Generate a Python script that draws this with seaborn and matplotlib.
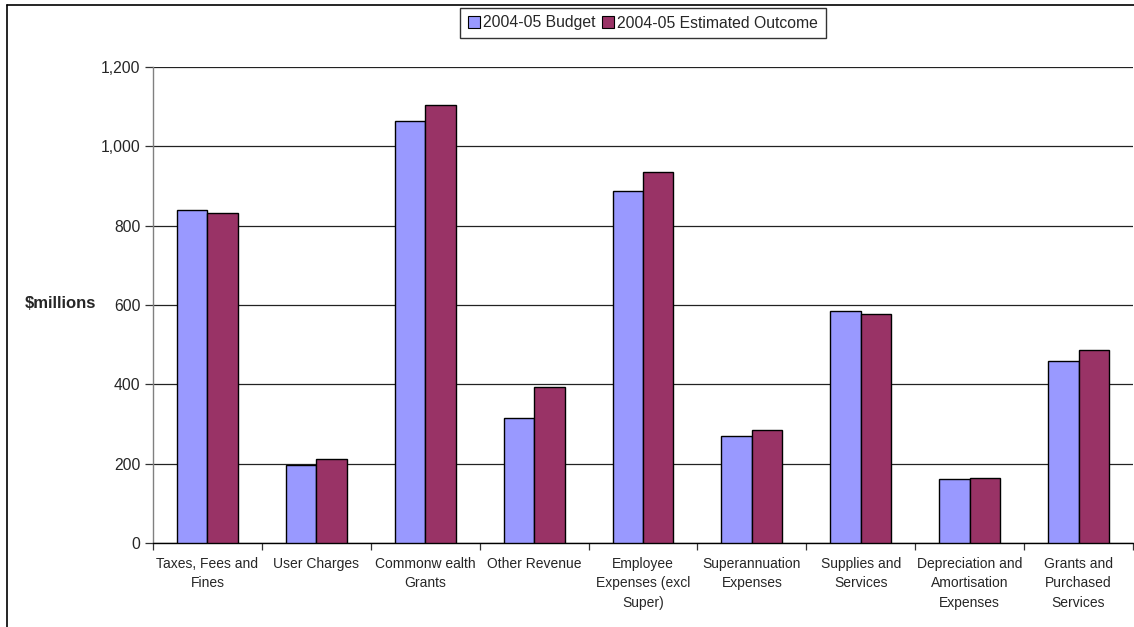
import numpy as np
import pandas as pd
import matplotlib
matplotlib.use("Agg")
import matplotlib.pyplot as plt
import seaborn as sns
from matplotlib.lines import Line2D
from matplotlib.ticker import FuncFormatter, FixedLocator

categories = [
    "Taxes, Fees and\nFines",
    "User Charges",
    "Commonw ealth\nGrants",
    "Other Revenue",
    "Employee\nExpenses (excl\nSuper)",
    "Superannuation\nExpenses",
    "Supplies and\nServices",
    "Depreciation and\nAmortisation\nExpenses",
    "Grants and\nPurchased\nServices",
]
budget = [839, 196, 1065, 314, 887, 270, 585, 162, 460]
outcome = [832, 213, 1103, 394, 935, 286, 578, 165, 486]
series_names = ["2004-05 Budget", "2004-05 Estimated Outcome"]
colors = ["#9999FF", "#993366"]

sns.set_theme(style="white")
plt.rcParams["font.family"] = ["Liberation Sans", "DejaVu Sans"]

df = pd.DataFrame({
    "category": categories * 2,
    "value": budget + outcome,
    "series": [series_names[0]] * len(categories) + [series_names[1]] * len(categories),
})

fig = plt.figure(figsize=(11.34, 6.27), dpi=100)
ax = fig.add_axes([153 / 1134, 1 - 543 / 627, (1133 - 153) / 1134, (543 - 67) / 627])

sns.barplot(data=df, x="category", y="value", hue="series", order=categories,
            hue_order=series_names, palette=colors, width=0.56,
            edgecolor="black", linewidth=1.0, saturation=1, ax=ax, legend=False, zorder=3)

ax.set_ylim(0, 1200)
ax.set_xlim(-0.5, len(categories) - 0.5)
ax.yaxis.set_major_locator(FixedLocator(np.arange(0, 1201, 200)))
ax.yaxis.set_major_formatter(FuncFormatter(lambda v, p: f"{int(v):,}"))
ax.grid(axis="y", color="#222222", linewidth=0.9, zorder=0)
ax.grid(axis="x", visible=False)
ax.set_axisbelow(True)

ax.set_xlabel("")
ax.set_ylabel("")
ax.tick_params(axis="y", which="major", direction="out", length=6, width=0.9,
               color="#333333", labelsize=11.3, pad=3, left=True)
ax.tick_params(axis="x", which="major", length=0, labelsize=10, pad=10)
ax.set_xticks(range(len(categories)))
ax.set_xticklabels(categories, linespacing=1.5, va="top")
ax.set_xticks(np.arange(-0.5, len(categories), 1.0), minor=True)
ax.tick_params(axis="x", which="minor", direction="out", length=5, width=0.9,
               color="#333333", bottom=True)

for s in ["top", "right"]:
    ax.spines[s].set_visible(False)
ax.spines["left"].set_color("#808080")
ax.spines["left"].set_linewidth(1.0)
ax.spines["bottom"].set_color("black")
ax.spines["bottom"].set_linewidth(1.0)

fig.text(25 / 1134, 1 - 304 / 627, "$millions", fontsize=12, fontweight="bold",
         va="center", ha="left")

handles = [plt.Rectangle((0, 0), 1, 1, facecolor=c, edgecolor="black", linewidth=0.8)
           for c in colors]
leg = fig.legend(handles, series_names, loc="center", bbox_to_anchor=(643 / 1134, 1 - 23 / 627),
                 ncol=2, fontsize=11.3, frameon=True, fancybox=False, edgecolor="black",
                 handlelength=0.75, handleheight=0.75, handletextpad=0.2, columnspacing=0.4,
                 borderpad=0.5, borderaxespad=0)
leg.get_frame().set_linewidth(1.0)

fig.add_artist(Line2D([7 / 1134, 7 / 1134], [0, 1 - 5 / 627], transform=fig.transFigure,
                      color="black", linewidth=1.2))
fig.add_artist(Line2D([7 / 1134, 1], [1 - 5 / 627, 1 - 5 / 627], transform=fig.transFigure,
                      color="black", linewidth=1.2))

fig.savefig("out.png", dpi=100)
